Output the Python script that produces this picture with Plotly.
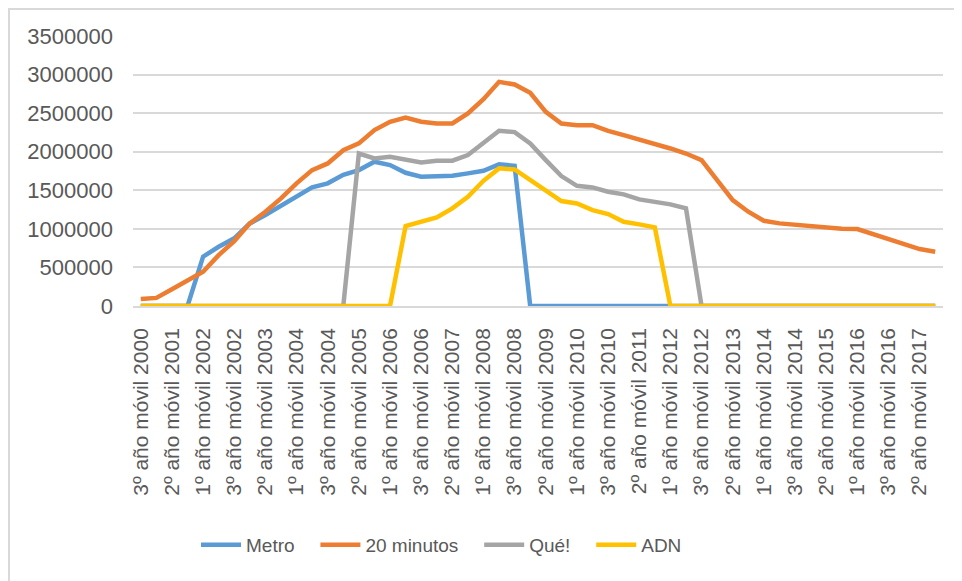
import plotly.graph_objects as go

years_pos = ["1º", "2º", "3º"]
categories = ["3º año móvil 2000"] + [f"{p} año móvil {y}" for y in range(2001, 2018) for p in years_pos]

metro = [0, 0, 0, 0, 640000, 768000, 877000, 1070000, 1179000, 1295000,
         1416000, 1537000, 1590000, 1700000, 1762000, 1870000, 1827000, 1727000, 1675000, 1675000,
         1688000, 1719000, 1753000, 1836000, 1818000, 0, 0, 0, 0, 0,
         0, 0, 0, 0, 0, 0, 0, 0, 0, 0,
         0, 0, 0, 0, 0, 0, 0, 0, 0, 0,
         0, 0]

veinte_minutos = [90000, 105000, 216000, 337000, 445000, 660000, 842000, 1071000, 1222000, 1395000,
                  1590000, 1762000, 1848000, 2020000, 2108000, 2280000, 2388000, 2444000, 2388000, 2366000,
                  2366000, 2496000, 2681000, 2906000, 2871000, 2763000, 2517000, 2366000, 2344000, 2344000,
                  2271000, 2215000, 2159000, 2107000, 2042000, 1977000, 1891000, 1632000, 1373000, 1222000,
                  1105000, 1071000, 1053000, 1036000, 1019000, 1002000, 997000, 932000, 877000, 799000,
                  738000, 703000]

que = [0, 0, 0, 0, 0, 0, 0, 0, 0, 0,
       0, 0, 0, 0, 1977000, 1913000, 1935000, 1900000, 1861000, 1883000,
       1883000, 1956000, 2116000, 2271000, 2254000, 2107000, 1891000, 1684000, 1558000, 1537000,
       1481000, 1447000, 1382000, 1347000, 1317000, 1265000, 0, 0, 0, 0,
       0, 0, 0, 0, 0, 0, 0, 0, 0, 0,
       0, 0]

adn = [0, 0, 0, 0, 0, 0, 0, 0, 0, 0,
       0, 0, 0, 0, 0, 0, 0, 1036000, 1092000, 1149000,
       1265000, 1416000, 1623000, 1784000, 1770000, 1632000, 1481000, 1360000, 1330000, 1243000,
       1192000, 1092000, 1058000, 1019000, 0, 0, 0, 0, 0, 0,
       0, 0, 0, 0, 0, 0, 0, 0, 0, 0,
       0, 0]

series_names = ["Metro", "20 minutos", "Qué!", "ADN"]
series_values = [metro, veinte_minutos, que, adn]
series_colors = ["#5B9BD5", "#ED7D31", "#A5A5A5", "#FFC000"]

PAD = "\u00a0\u00a0\u00a0"

fig = go.Figure()
for name, vals, col in zip(series_names, series_values, series_colors):
    fig.add_trace(go.Scatter(x=categories, y=vals, name=name + PAD, mode="lines",
                             line=dict(color=col, width=4.5),
                             hovertemplate=name + ": %{y}<extra></extra>"))

# page body has an 8px margin: work in screen pixels and convert
OFF = 8
W, H = 962, 581
plot_left, plot_right, plot_top, plot_bottom = 133, 943, 36, 306
L = plot_left - OFF
T = plot_top - OFF
R = W - (plot_right - OFF)
B = H - (plot_bottom - OFF)
pw, ph = W - L - R, H - T - B

def px(x):
    return (x - plot_left) / pw

def py(y):
    return (plot_bottom - y) / ph

fig.update_layout(
    width=W, height=H,
    margin=dict(l=L, r=R, t=T, b=B, autoexpand=False),
    plot_bgcolor="white", paper_bgcolor="white",
    font=dict(family="Liberation Sans, Arial, sans-serif", size=21, color="#595959"),
    showlegend=True,
    legend=dict(orientation="h", x=px(196), xanchor="left", y=py(545), yanchor="middle",
                font=dict(size=19, color="#595959"), itemwidth=40, tracegroupgap=0),
    xaxis=dict(type="category", range=[-0.5, len(categories) - 0.5],
               tickmode="array", tickvals=categories[::2], ticktext=categories[::2],
               tickangle=-90, showgrid=False, showline=True, linecolor="#d9d9d9", linewidth=1.5,
               ticks="", tickfont=dict(size=21, color="#595959"), ticklabelstandoff=12,
               zeroline=False, automargin=False),
    yaxis=dict(range=[0, 3500000], tickmode="linear", tick0=0, dtick=500000,
               tickformat="d", showgrid=True, gridcolor="#d9d9d9", gridwidth=1.5,
               zeroline=False, showline=False, ticks="", ticklabelstandoff=19,
               tickfont=dict(size=22, color="#595959"), automargin=False),
)

fig.add_shape(type="line", xref="paper", yref="paper",
              x0=px(8), x1=px(970), y0=py(9), y1=py(9),
              line=dict(color="#d9d9d9", width=2))
fig.add_shape(type="line", xref="paper", yref="paper",
              x0=px(9), x1=px(9), y0=py(9), y1=py(600),
              line=dict(color="#d9d9d9", width=2))

fig.write_html("out.html")
